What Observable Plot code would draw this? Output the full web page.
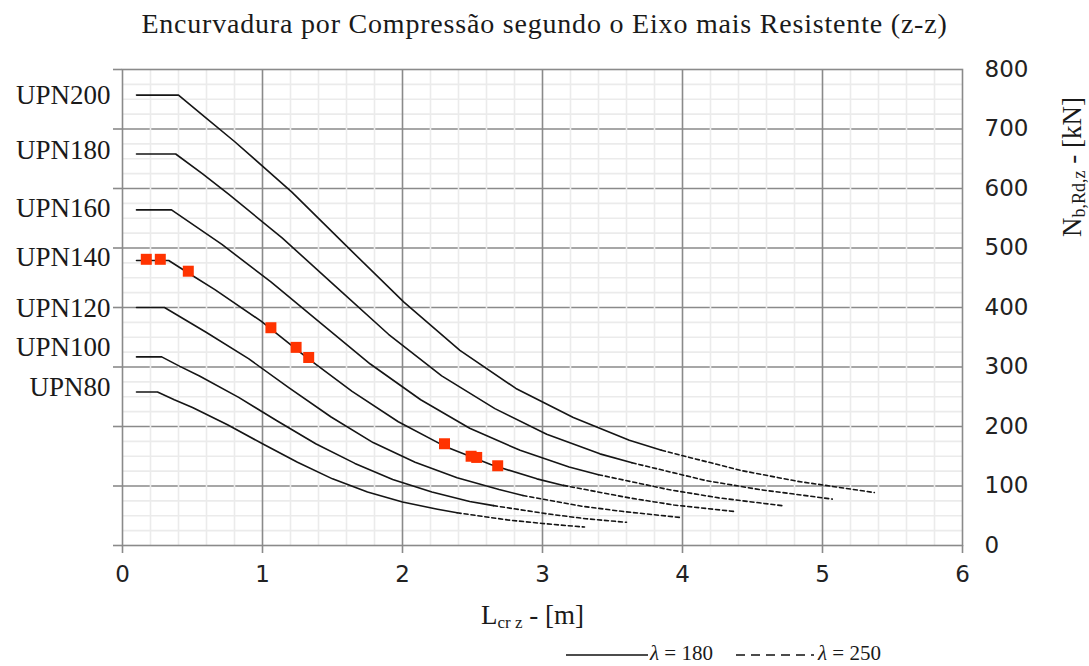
<!DOCTYPE html>
<html>
<head>
<meta charset="utf-8">
<script src="https://cdn.jsdelivr.net/npm/d3@7"></script>
<script src="https://cdn.jsdelivr.net/npm/@observablehq/plot@0.6"></script>
<style>
  body { margin: 0; background: #fff; }
  #wrap { position: relative; width: 1089px; height: 666px; overflow: hidden; background: #fff; }
  #chart { position: absolute; left: 0; top: 0; }
  .serif { position: absolute; white-space: nowrap; font-family: "Liberation Serif", "DejaVu Serif", serif; color: #1a1a1a; line-height: 1; }
  #title { left: 0; width: 1089px; top: 10px; text-align: center; font-size: 28px; letter-spacing: 0.8px; }
  #xlabel { left: 481px; top: 602px; font-size: 27px; }
  #xlabel sub { font-size: 17px; vertical-align: -4px; }
  #ylabel { left: 1073px; top: 167px; font-size: 27px; transform: translate(-50%, -50%) rotate(-90deg); }
  #ylabel sub { font-size: 18px; vertical-align: -4px; }
  .leg { top: 643px; font-size: 21px; }
  .leg i { font-style: italic; }
</style>
</head>
<body>
<div id="wrap">
  <div id="chart"></div>
  <div id="title" class="serif">Encurvadura por Compressão segundo o Eixo mais Resistente (z-z)</div>
  <div id="xlabel" class="serif">L<sub>cr z</sub> - [m]</div>
  <div id="ylabel" class="serif">N<sub>b,Rd,z</sub> - [kN]</div>
  <svg style="position:absolute;left:560px;top:646px" width="340" height="20">
    <line x1="6" x2="88" y1="9" y2="9" stroke="#111" stroke-width="1.6"></line>
    <line x1="176" x2="254" y1="9" y2="9" stroke="#111" stroke-width="1.6" stroke-dasharray="9,6"></line>
  </svg>
  <div class="serif leg" style="left:650px"><i>λ</i> = 180</div>
  <div class="serif leg" style="left:818px"><i>λ</i> = 250</div>
</div>
<script>
// Profiles and the height of their labels on the left
const profiles = ["UPN80", "UPN100", "UPN120", "UPN140", "UPN160", "UPN180", "UPN200"];
const labelN = [266, 333, 398, 484, 566, 664, 756];

// Buckling length L (m) and resistance N (kN) per profile.
// Points 0..11 are drawn solid (slenderness up to 180), 11..end dashed (up to 250).
const upn80L  = [0.10, 0.25, 0.37, 0.50, 0.75, 1.00, 1.25, 1.50, 1.75, 2.00, 2.25, 2.39, 2.75, 3.00, 3.30];
const upn80N  = [258, 258, 245, 232, 203, 171, 140, 112, 90, 73, 61, 55, 43, 37, 31];
const upn100L = [0.10, 0.28, 0.41, 0.55, 0.83, 1.10, 1.38, 1.66, 1.93, 2.21, 2.48, 2.65, 3.04, 3.31, 3.60];
const upn100N = [317, 317, 301, 285, 249, 210, 171, 138, 111, 90, 74, 67, 53, 45, 39];
const upn120L = [0.10, 0.30, 0.45, 0.60, 0.90, 1.19, 1.49, 1.79, 2.09, 2.39, 2.69, 2.86, 3.28, 3.58, 3.99];
const upn120N = [400, 400, 379, 358, 314, 265, 216, 173, 140, 114, 94, 84, 66, 57, 47];
const upn140L = [0.10, 0.33, 0.49, 0.66, 0.99, 1.31, 1.64, 1.97, 2.30, 2.63, 2.96, 3.15, 3.62, 3.94, 4.38];
const upn140N = [479, 479, 455, 430, 377, 317, 259, 208, 167, 136, 112, 101, 80, 68, 57];
const upn160L = [0.10, 0.35, 0.53, 0.71, 1.06, 1.42, 1.77, 2.13, 2.48, 2.84, 3.19, 3.40, 3.90, 4.26, 4.71];
const upn160N = [564, 564, 535, 506, 443, 373, 305, 245, 197, 160, 132, 119, 94, 80, 67];
const upn180L = [0.10, 0.38, 0.57, 0.76, 1.14, 1.52, 1.90, 2.28, 2.66, 3.03, 3.41, 3.64, 4.17, 4.55, 5.07];
const upn180N = [658, 658, 625, 590, 517, 436, 355, 285, 230, 187, 154, 139, 109, 94, 78];
const upn200L = [0.10, 0.40, 0.60, 0.80, 1.21, 1.61, 2.01, 2.41, 2.81, 3.22, 3.62, 3.85, 4.42, 4.82, 5.37];
const upn200N = [757, 757, 718, 679, 594, 501, 409, 328, 264, 215, 177, 160, 126, 108, 89];
const solidEndIndex = 11;

// Highlighted points (on UPN140)
const markerL = [0.17, 0.27, 0.47, 1.06, 1.24, 1.33, 2.30, 2.49, 2.53, 2.68];
const markerN = [481, 481, 461, 366, 333, 316, 171, 150, 148, 134];

// Axis ticks
const xTicks = [0, 1, 2, 3, 4, 5, 6];
const yTicks = [0, 100, 200, 300, 400, 500, 600, 700, 800];

const seriesL = [upn80L, upn100L, upn120L, upn140L, upn160L, upn180L, upn200L];
const seriesN = [upn80N, upn100N, upn120N, upn140N, upn160N, upn180N, upn200N];
const solid = [], dashed = [];
profiles.forEach((p, k) => {
  seriesL[k].forEach((L, i) => {
    const row = {p, L, N: seriesN[k][i]};
    if (i <= solidEndIndex) solid.push(row);
    if (i >= solidEndIndex) dashed.push(row);
  });
});
const markers = markerL.map((L, i) => ({L, N: markerN[i]}));
const labels = profiles.map((p, i) => ({p, N: labelN[i]}));

const xMinor = d3.range(0, 6.001, 0.2).filter(v => Math.abs(v - Math.round(v)) > 1e-6);
const yMinor = d3.range(0, 800, 25).filter(v => v % 100 !== 0);
const yInner = yTicks.filter(v => v > 0 && v < 800);
const xInner = xTicks.filter(v => v > 0 && v < 6);
const gray = "#8a8a8a";

const chart = Plot.plot({
  width: 1089,
  height: 666,
  marginTop: 69,
  marginBottom: 121,
  marginLeft: 122,
  marginRight: 127,
  x: {domain: [0, 6]},
  y: {domain: [0, 800]},
  style: {background: "transparent"},
  marks: [
    Plot.ruleY(yInner, {stroke: gray, strokeWidth: 1.6}),
    Plot.ruleX(xMinor, {stroke: "#ebebeb", strokeWidth: 1.6}),
    Plot.ruleY(yMinor, {stroke: "#ebebeb", strokeWidth: 1.6}),
    Plot.ruleX(xInner, {stroke: gray, strokeWidth: 1.6}),
    Plot.frame({stroke: gray, strokeWidth: 1.6}),
    Plot.axisY({anchor: "left", ticks: yTicks, tickSize: 9, tickFormat: () => "", stroke: gray, strokeWidth: 1.6, label: null}),
    Plot.axisY({anchor: "right", ticks: yTicks, tickSize: 0, tickPadding: 22, tickFormat: d => String(d), label: null,
      fontSize: 23, fontFamily: "DejaVu Sans", fill: "#222"}),
    Plot.axisX({anchor: "bottom", ticks: xTicks, tickSize: 8, tickPadding: 12, tickFormat: d => String(d), label: null,
      stroke: gray, strokeWidth: 1.6, fontSize: 23, fontFamily: "DejaVu Sans", fill: "#222"}),
    Plot.line(solid, {x: "L", y: "N", z: "p", curve: "linear", stroke: "#151515", strokeWidth: 1.6}),
    Plot.line(dashed, {x: "L", y: "N", z: "p", curve: "linear", stroke: "#151515", strokeWidth: 1.6, strokeDasharray: "4,3"}),
    Plot.dot(markers, {x: "L", y: "N", symbol: "square", r: 6.2, fill: "#ff3300", stroke: "none"}),
    Plot.text(labels, {frameAnchor: "left", y: "N", text: "p", textAnchor: "end", dx: -12,
      fontSize: 27, fontFamily: "Liberation Serif", fill: "#1a1a1a"})
  ]
});
document.getElementById("chart").appendChild(chart);
</script>
</body>
</html>
